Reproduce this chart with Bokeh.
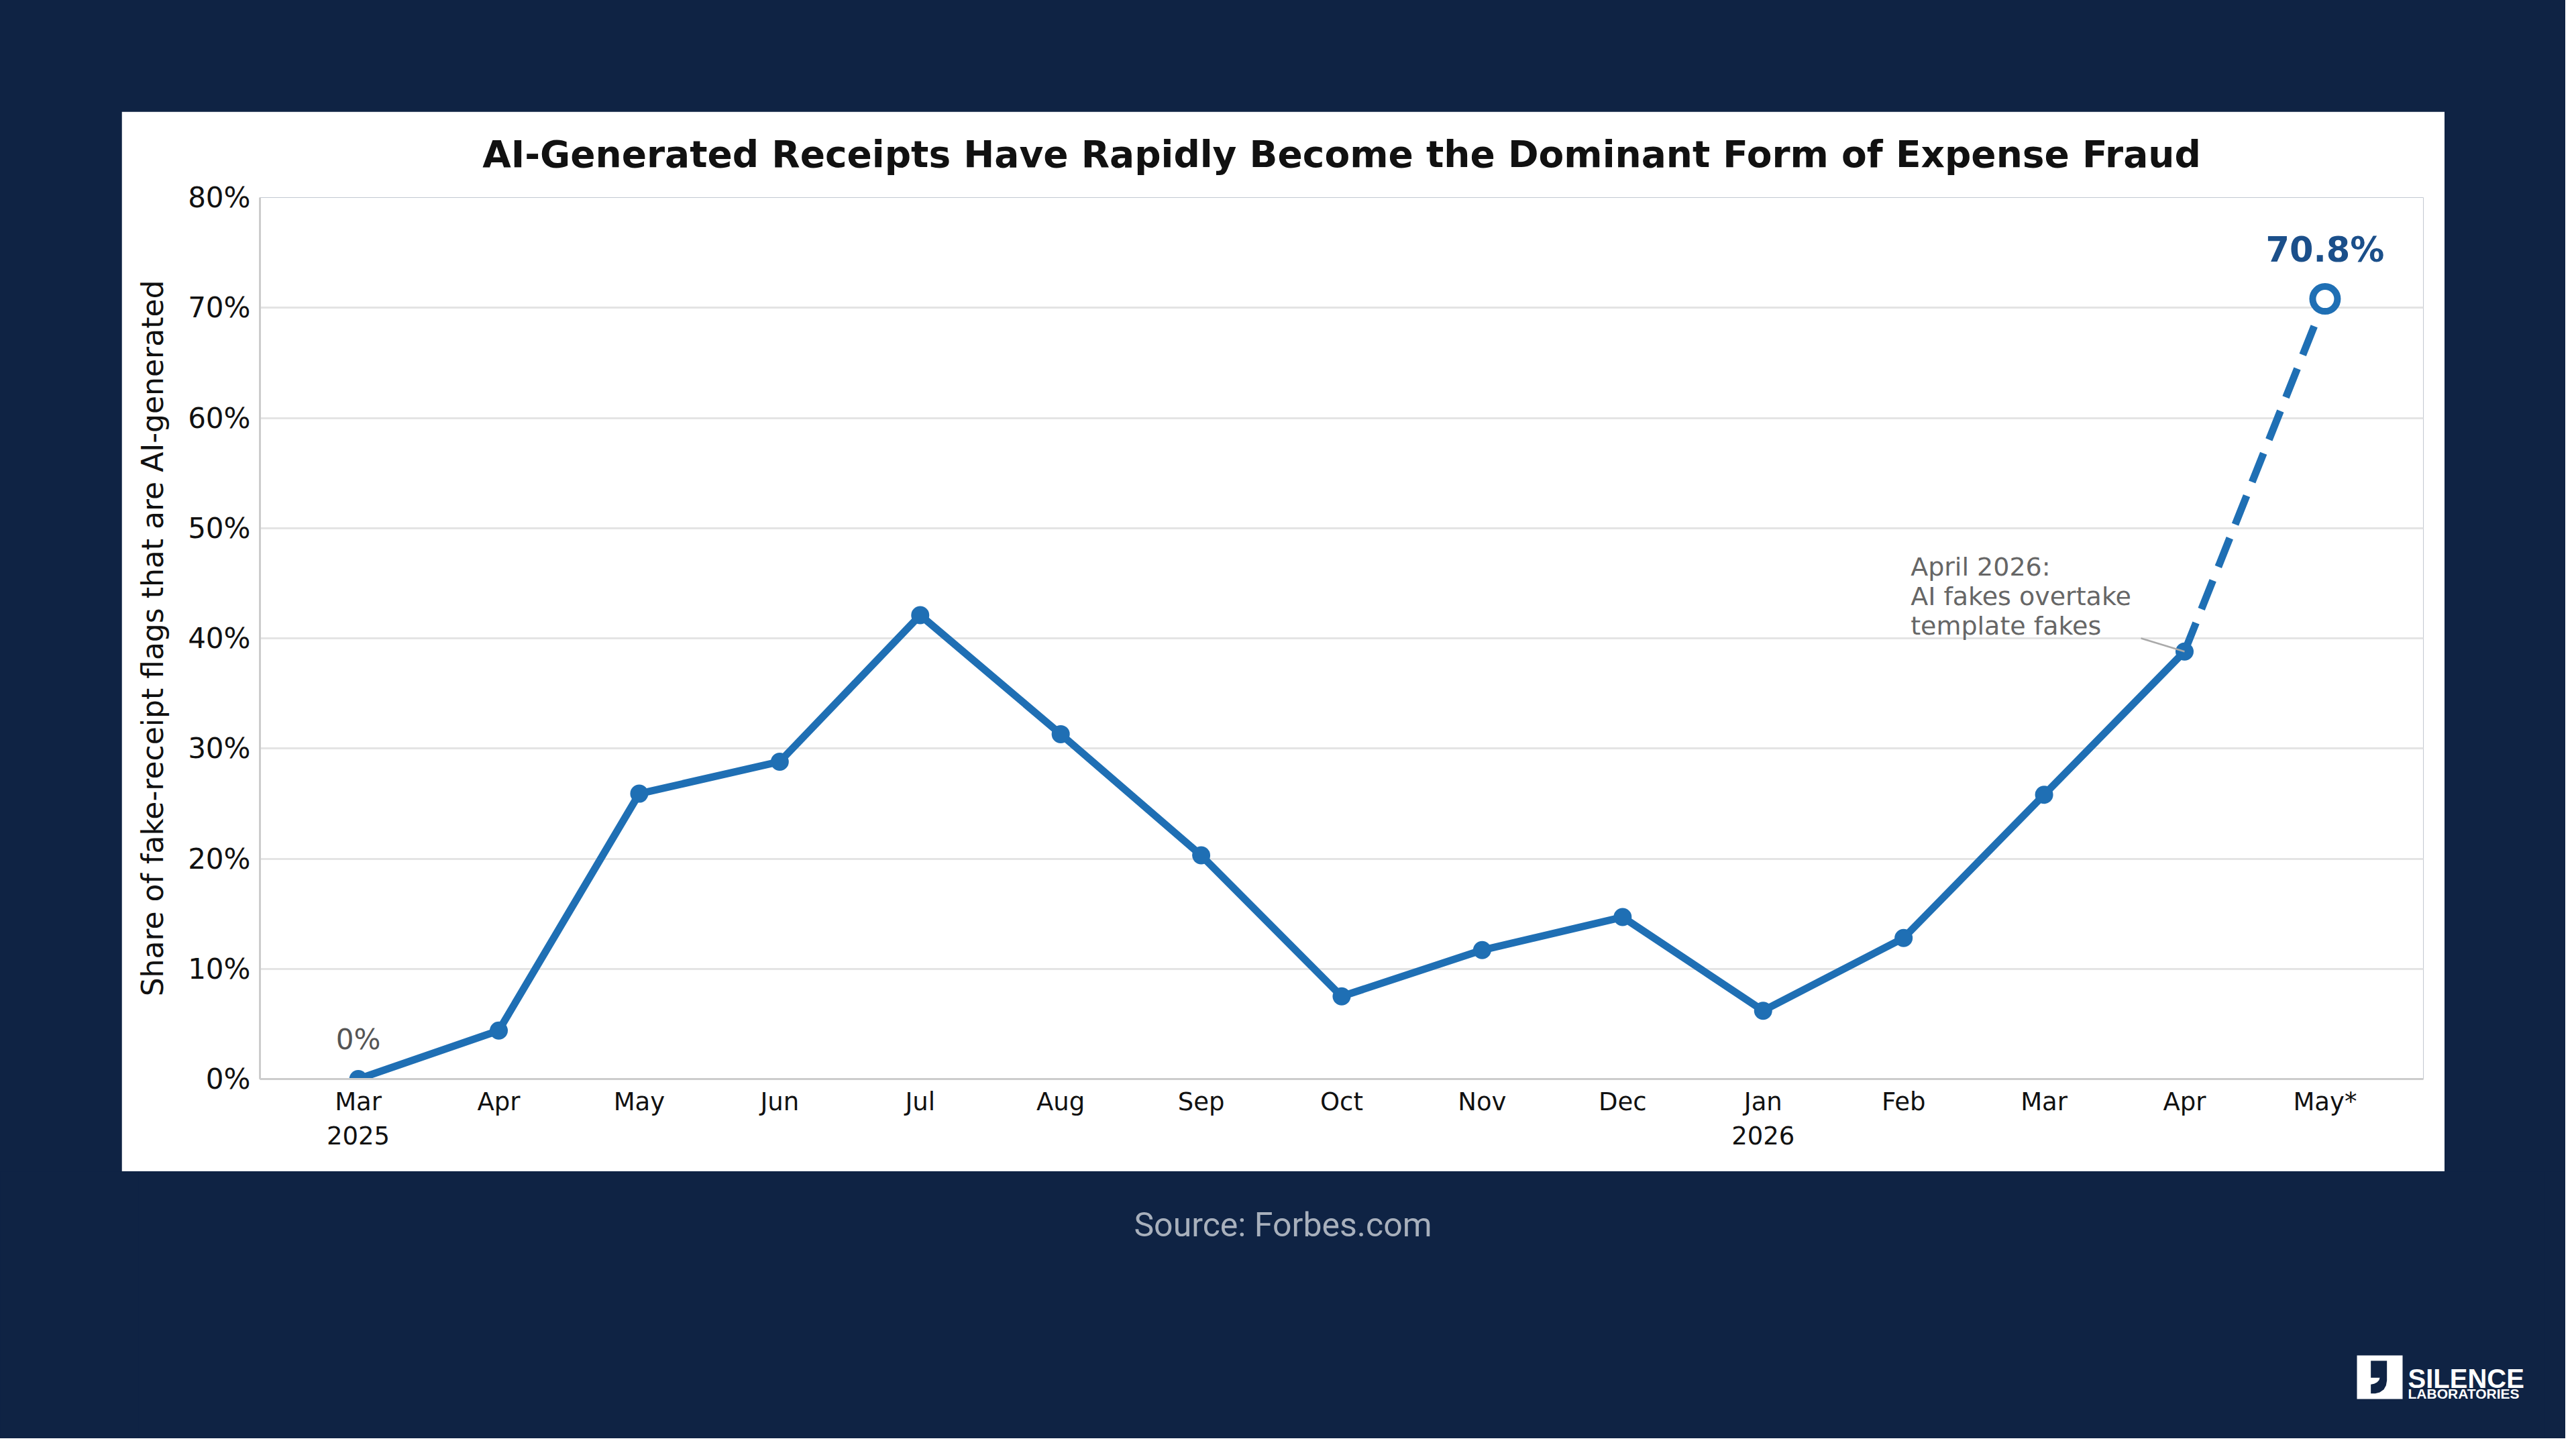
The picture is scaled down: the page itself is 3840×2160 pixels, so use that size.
from bokeh.plotting import figure
from bokeh.models import Range1d, FixedTicker, PrintfTickFormatter, Label
from bokeh.layouts import column
from bokeh.embed import file_html
from bokeh.resources import INLINE

# data
months = ["Mar\n2025", "Apr", "May", "Jun", "Jul", "Aug", "Sep", "Oct",
          "Nov", "Dec", "Jan\n2026", "Feb", "Mar", "Apr", "May*"]
share = [0.0, 4.4, 25.9, 28.8, 42.1, 31.3, 20.3, 7.5,
         11.7, 14.7, 6.2, 12.8, 25.8, 38.8, 70.8]
y_ticks = [0, 10, 20, 30, 40, 50, 60, 70, 80]

title = "AI-Generated Receipts Have Rapidly Become the Dominant Form of Expense Fraud"
y_label = "Share of fake-receipt flags that are AI-generated"
note = "April 2026:\nAI fakes overtake\ntemplate fakes"
source = "Source: Forbes.com"

BG = "#0f2344"
BLUE = "#1f6fb4"
FONT = "DejaVu Sans"

x = list(range(len(months)))
last = len(months) - 1

BORDER_L, BORDER_R = 206, 32

# main chart (white panel)
p = figure(width=3463, height=1580,
           x_range=Range1d(-0.7, last + 0.7), y_range=Range1d(0, 80),
           output_backend="svg", toolbar_location=None,
           min_border_left=BORDER_L, min_border_right=BORDER_R,
           min_border_top=127, min_border_bottom=138,
           background_fill_color="white", border_fill_color="white",
           outline_line_color=None)
p.margin = (166, 0, 0, 181)

p.title.text = title
p.title.align = "center"
p.title.vertical_align = "top"
p.title.text_font = FONT
p.title.text_font_size = "55px"
p.title.text_font_style = "bold"
p.title.text_color = "#111111"
p.title.standoff = 62

p.xaxis.ticker = FixedTicker(ticks=x)
p.xaxis.major_label_overrides = {i: m for i, m in enumerate(months)}
p.xaxis.major_label_text_font_size = "37px"
p.xaxis.major_label_standoff = 6

p.yaxis.ticker = FixedTicker(ticks=y_ticks)
p.yaxis.formatter = PrintfTickFormatter(format="%d%%")
p.yaxis.major_label_text_font_size = "42px"
p.yaxis.major_label_standoff = 8
p.yaxis.axis_label = y_label
p.yaxis.axis_label_text_font = FONT
p.yaxis.axis_label_text_font_size = "44px"
p.yaxis.axis_label_text_font_style = "normal"
p.yaxis.axis_label_text_color = "#111111"
p.yaxis.axis_label_standoff = 24

for ax in (p.xaxis, p.yaxis):
    ax.major_label_text_font = FONT
    ax.major_label_text_color = "#111111"
    ax.major_tick_line_color = None
    ax.minor_tick_line_color = None
    ax.axis_line_color = "#cccccc"
    ax.axis_line_width = 3

p.xgrid.visible = False
p.ygrid.grid_line_color = "#e4e4e4"
p.ygrid.grid_line_width = 3

# observed months, then the projected last month
p.line(x[:last], share[:last], line_color=BLUE, line_width=11,
       line_join="round")
p.line(x[last - 1:], share[last - 1:], line_color=BLUE, line_width=11,
       line_dash="46 22")
p.scatter(x[:last], share[:last], size=27, fill_color=BLUE, line_color=None)
p.scatter(x[last:], share[last:], size=37, fill_color="white",
          line_color=BLUE, line_width=10)

p.add_layout(Label(x=x[last], y=share[last], text="70.8%", y_offset=73,
                   text_align="center", text_baseline="middle",
                   text_font=FONT, text_font_size="51px",
                   text_font_style="bold", text_color="#1b4f8a"))
p.add_layout(Label(x=x[0], y=share[0], text="0%", y_offset=59,
                   text_align="center", text_baseline="middle",
                   text_font=FONT, text_font_size="42px", text_color="#555555"))

# callout for April 2026
note_x, note_y = 11.05, 47.8
p.segment(x0=[12.69], y0=[40.0], x1=[x[last - 1]], y1=[share[last - 1]],
          line_color="#aaaaaa", line_width=2.5)
p.add_layout(Label(x=note_x, y=note_y, text=note, text_align="left",
                   text_baseline="top", text_font=FONT, text_font_size="38px",
                   text_line_height=1.0, text_color="#666666"))

# footer: source line and logo (data units = pixels of the footer canvas)
f = figure(width=3824, height=398, x_range=Range1d(BORDER_L, 3824 - BORDER_R),
           y_range=Range1d(398, 0), output_backend="svg",
           toolbar_location=None, min_border=0,
           min_border_left=BORDER_L, min_border_right=BORDER_R,
           background_fill_color=BG, border_fill_color=BG,
           outline_line_color=None)
f.axis.visible = False
f.grid.visible = False

f.add_layout(Label(x=1912, y=79, text=source, text_align="center",
                   text_baseline="middle", text_font="Roboto",
                   text_font_size="50px", text_color="#a8b0bc"))

f.quad(left=[3513], right=[3581], top=[274], bottom=[339],
       fill_color="white", line_color=None)


def logo_pts(pts):
    return [3507 + a / 3 for a, b in pts], [268 + b / 3 for a, b in pts]


gx, gy = logo_pts([(80, 42), (152, 42), (152, 130), (148, 152), (138, 170),
                   (120, 183), (100, 188), (80, 188), (80, 148), (95, 145),
                   (108, 138), (117, 128), (120, 118), (80, 118)])
f.patch(gx, gy, fill_color=BG, line_color=None)

f.add_layout(Label(x=3589, y=308, text="SILENCE", text_baseline="alphabetic",
                   text_font="Liberation Sans", text_font_style="bold",
                   text_font_size="40px", text_color="white"))
f.add_layout(Label(x=3589, y=331, text="LABORATORIES",
                   text_baseline="alphabetic", text_font="Liberation Sans",
                   text_font_style="bold", text_font_size="21px",
                   text_color="white"))

layout = column(p, f, styles={"background-color": BG})

html = file_html(layout, INLINE, title="AI-generated receipts")
html = html.replace("<body>", '<body style="background-color:%s;">' % BG, 1)
open("out.html", "w").write(html)
